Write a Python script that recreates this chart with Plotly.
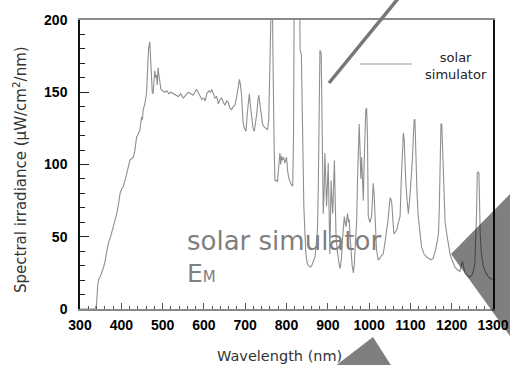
import plotly.graph_objects as go

# Spectral irradiance of the solar simulator (uW/cm^2/nm) vs wavelength (nm)
wavelength = [
    300, 336, 340, 343, 346, 350, 356, 360, 365, 369, 375, 381, 385, 389, 393, 397,
    401, 405, 409, 413, 417, 421, 425, 429, 433, 437, 441, 445, 449, 451, 453, 457,
    461, 464, 466, 469, 471, 473, 475, 477, 479, 481, 483, 485, 487, 489, 491, 493,
    496, 500, 505, 510, 515, 520, 526, 532, 538, 544, 550, 556, 562, 568, 574, 578,
    582, 586, 590, 595, 600, 603, 607, 612, 616, 619, 623, 627, 631, 635, 639, 643,
    647, 651, 655, 659, 663, 667, 671, 675, 680, 684, 686, 688, 691, 693, 695, 698,
    702, 705, 708, 710, 713, 716, 719, 722, 725, 728, 731, 733, 735, 738, 742, 746,
    750, 754, 757, 759, 761, 765, 767, 768, 770, 772, 775, 778, 781, 784, 786, 788,
    790, 793, 796, 800, 803, 806, 810, 815, 817, 818, 819, 831, 833, 836, 838, 840,
    842, 845, 847, 850, 853, 858, 861, 865, 869, 872, 875, 877, 879, 881, 884, 886,
    888, 889, 891, 893, 895, 897, 899, 901, 903, 905, 907, 908, 910, 912, 914, 916,
    918, 920, 923, 925, 928, 930, 933, 936, 938, 940, 942, 944, 946, 948, 950, 952,
    954, 956, 959, 962, 964, 966, 968, 970, 972, 974, 976, 978, 980, 982, 984, 986,
    988, 990, 992, 994, 996, 998, 1002, 1006, 1008, 1010, 1012, 1014, 1016, 1018, 1022, 1026,
    1030, 1034, 1038, 1042, 1046, 1049, 1051, 1053, 1055, 1058, 1060, 1063, 1067, 1071, 1075, 1078,
    1081, 1083, 1085, 1087, 1089, 1092, 1095, 1098, 1101, 1103, 1105, 1107, 1109, 1111, 1113, 1116,
    1119, 1123, 1127, 1133, 1139, 1145, 1150, 1155, 1160, 1165, 1168, 1170, 1172, 1174, 1176, 1178,
    1181, 1184, 1188, 1192, 1196, 1202, 1208, 1214, 1220, 1223, 1226, 1229, 1232, 1238, 1244, 1250,
    1254, 1256, 1258, 1260, 1262, 1264, 1266, 1267, 1269, 1272, 1277, 1283, 1289, 1295, 1300,
]
irradiance = [
    0, 0, 3, 17, 21, 23, 28, 32, 40, 46, 51, 57, 62, 66, 72, 80,
    83, 85, 89, 94, 99, 103, 104, 105, 110, 119, 121, 124, 133, 131, 138, 142,
    149, 165, 180, 185, 172, 162, 150, 149, 162, 165, 160, 162, 155, 167, 162, 156,
    152, 151, 150, 151, 149, 150, 149, 148, 147, 149, 146, 148, 150, 149, 148, 150,
    152, 150, 148, 145, 146, 144, 149, 151, 150, 152, 149, 146, 147, 142, 145, 146,
    143, 141, 144, 143, 139, 138, 140, 141, 148, 158, 159, 156, 149, 138, 129, 125,
    123, 135, 148, 149, 140, 131, 125, 123, 128, 135, 145, 148, 143, 135, 128, 126,
    125, 124, 131, 180, 240, 240, 180, 130, 114, 89, 89, 88, 102, 108, 100, 106,
    103, 105, 101, 105, 95, 90, 87, 85, 119, 150, 240, 240, 179, 176, 140, 108,
    71, 50, 38, 32, 30, 29, 30, 33, 36, 45, 55, 85, 140, 179, 177, 140,
    108, 66, 80, 108, 90, 71, 85, 101, 70, 38, 70, 89, 75, 66, 85, 103,
    75, 50, 40, 34, 30, 28, 35, 50, 58, 64, 60, 57, 62, 66, 60, 62,
    50, 41, 30, 25, 30, 41, 52, 62, 90, 112, 128, 111, 90, 105, 90, 75,
    100, 125, 138, 139, 120, 64, 60, 64, 75, 87, 80, 64, 50, 41, 34, 35,
    37, 38, 45, 52, 62, 72, 77, 76, 73, 60, 52, 53, 55, 60, 64, 90,
    118, 122, 117, 100, 87, 75, 66, 75, 85, 95, 105, 120, 131, 131, 99, 80,
    64, 52, 43, 38, 36, 35, 34, 35, 40, 47, 52, 70, 100, 128, 128, 110,
    75, 60, 52, 44, 38, 33, 29, 27, 26, 30, 33, 29, 25, 23, 22, 24,
    28, 32, 45, 64, 94, 95, 94, 80, 52, 38, 29, 25, 22, 21, 20,
]

x_ticks = [300, 400, 500, 600, 700, 800, 900, 1000, 1100, 1200, 1300]
y_ticks = [0, 50, 100, 150, 200]

# plot area in pixels
L, R, T, B = 80, 493, 20, 309
W, H = 510, 365


def px(xp):
    return (xp - L) / (R - L)


def py(yp):
    return (B - yp) / (B - T)


fig = go.Figure()
fig.add_trace(go.Scatter(
    x=wavelength, y=irradiance, mode="lines",
    line=dict(color="#8f8f8f", width=1.1),
    showlegend=False, hoverinfo="skip",
))

tick_font = dict(family="Liberation Sans, Arial", size=14, color="#000000", weight="bold")

fig.update_xaxes(
    range=[300, 1300], tickvals=x_ticks, ticktext=[str(v) for v in x_ticks],
    ticks="inside", ticklen=6, tickwidth=1, tickcolor="#555555",
    minor=dict(dtick=20, tick0=300, ticks="inside", ticklen=3, tickcolor="#555555"),
    showline=True, linecolor="#8a8a8a", linewidth=2, mirror=True,
    showgrid=False, zeroline=False, tickfont=tick_font, ticklabelstandoff=2,
    automargin=False,
)
fig.update_yaxes(
    range=[0, 200], tickvals=y_ticks, ticktext=[str(v) for v in y_ticks],
    ticks="inside", ticklen=9, tickwidth=1, tickcolor="#222222",
    minor=dict(dtick=10, tick0=0, ticks="inside", ticklen=5, tickcolor="#222222"),
    showline=True, linecolor="#111111", linewidth=1.5, mirror=True,
    showgrid=False, zeroline=False, tickfont=tick_font, ticklabelstandoff=8,
    automargin=False,
)

annotations = [
    dict(text="Wavelength (nm)", x=px(279), y=py(356), xref="paper", yref="paper",
         showarrow=False, font=dict(family="DejaVu Sans", size=14.5, color="#333333"),
         xanchor="center", yanchor="middle"),
    dict(text="Spectral irradiance (\u00b5W/cm<sup>2</sup>/nm)", x=px(20), y=py(170),
         xref="paper", yref="paper", textangle=-90, showarrow=False,
         font=dict(family="DejaVu Sans", size=15, color="#333333"),
         xanchor="center", yanchor="middle"),
    dict(text="solar<br>simulator", x=px(456), y=py(66), xref="paper", yref="paper",
         showarrow=False, align="center",
         font=dict(family="DejaVu Sans", size=13, color="#222222"),
         xanchor="center", yanchor="middle"),
    dict(text="solar simulator", x=px(185), y=py(241), xref="paper", yref="paper",
         showarrow=False, font=dict(family="DejaVu Sans", size=26, color="#7f7f7f"),
         xanchor="left", yanchor="middle"),
    dict(text="E<span style='font-size:15px'>M</span>", x=px(185), y=py(290),
         xref="paper", yref="paper", showarrow=False,
         font=dict(family="DejaVu Sans", size=25, color="#7f7f7f"),
         xanchor="left", yanchor="bottom"),
]

shapes = [
    # legend line sample
    dict(type="line", xref="paper", yref="paper", x0=px(360), y0=py(64), x1=px(412), y1=py(64),
         line=dict(color="#9a9a9a", width=1)),
    # pointer line
    dict(type="line", xref="paper", yref="paper", x0=px(329), y0=py(83), x1=px(401), y1=py(-5),
         line=dict(color="#777777", width=3.5), layer="above"),
    # shaded wedges
    dict(type="path", xref="paper", yref="paper",
         path=f"M {px(451)},{py(254)} L {px(515)},{py(189)} L {px(515)},{py(343)} Z",
         fillcolor="rgba(0,0,0,0.5)", line=dict(width=0), layer="above"),
    dict(type="path", xref="paper", yref="paper",
         path=f"M {px(373)},{py(337)} L {px(394)},{py(370)} L {px(330)},{py(370)} Z",
         fillcolor="rgba(0,0,0,0.5)", line=dict(width=0), layer="above"),
]

fig.update_layout(
    width=W, height=H,
    margin=dict(l=L, r=W - R, t=T, b=H - B, pad=0),
    paper_bgcolor="white", plot_bgcolor="white",
    annotations=annotations, shapes=shapes,
    showlegend=False,
)

fig.write_html("out.html")
